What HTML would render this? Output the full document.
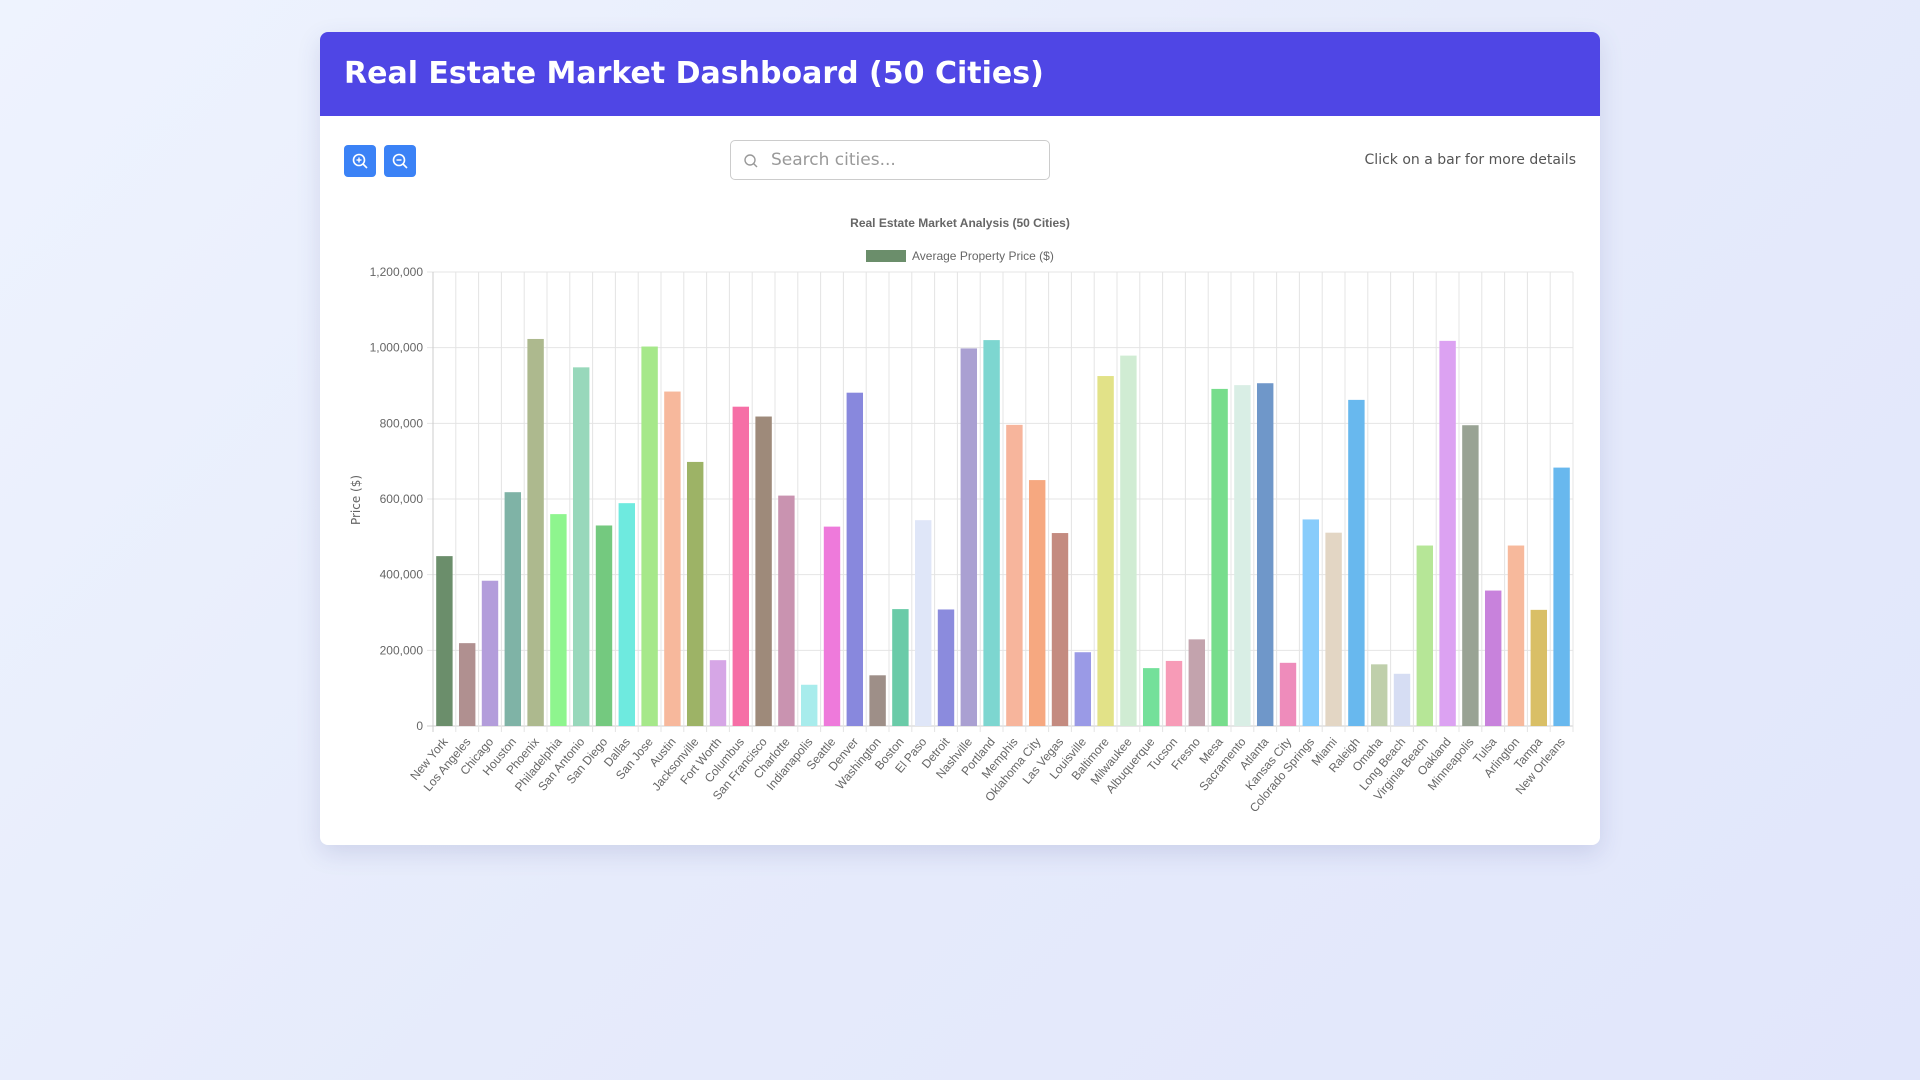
<!DOCTYPE html>
<html><head><meta charset="utf-8"><style>
html,body{margin:0;padding:0}
body{width:1920px;height:1080px;background:linear-gradient(135deg,#eef3fe 0%,#e6ebfb 50%,#e1e6fb 100%);font-family:"Liberation Sans",sans-serif;position:relative;overflow:hidden}
.card{position:absolute;left:320px;top:32px;width:1280px;height:813px;background:#fff;border-radius:8px;box-shadow:0 8px 24px rgba(60,70,140,.15);overflow:hidden}
.header{height:84px;background:#4f46e5;color:#fff;font-family:"DejaVu Sans","Liberation Sans",sans-serif;font-weight:bold;font-size:30px;line-height:84px;padding-left:24px}
.btn{position:absolute;top:113px;width:32px;height:32px;background:#3b82f6;border-radius:4px}
.search{position:absolute;left:410px;top:108px;width:320px;height:40px;border:1px solid #ccc;border-radius:5px;box-sizing:border-box}
.search span{position:absolute;left:40px;top:9px;font-size:17px;color:#999;font-family:"DejaVu Sans",sans-serif}
.hint{position:absolute;right:24px;top:120px;font-size:14px;color:#555;font-family:"DejaVu Sans",sans-serif}
svg{position:absolute;left:0;top:0}
</style></head><body>
<div class="card">
<div class="header">Real Estate Market Dashboard (50 Cities)</div>
<div class="btn" style="left:24px"><svg width="32" height="32"><circle cx="15" cy="15" r="5.5" fill="none" stroke="#fff" stroke-width="1.6"/><line x1="19" y1="19" x2="23" y2="23" stroke="#fff" stroke-width="1.6"/><line x1="12.5" y1="15" x2="17.5" y2="15" stroke="#fff" stroke-width="1.4"/><line x1="15" y1="12.5" x2="15" y2="17.5" stroke="#fff" stroke-width="1.4"/></svg></div>
<div class="btn" style="left:64px"><svg width="32" height="32"><circle cx="15" cy="15" r="5.5" fill="none" stroke="#fff" stroke-width="1.6"/><line x1="19" y1="19" x2="23" y2="23" stroke="#fff" stroke-width="1.6"/><line x1="12.5" y1="15" x2="17.5" y2="15" stroke="#fff" stroke-width="1.4"/></svg></div>
<div class="search"><svg width="40" height="40"><circle cx="19" cy="19" r="5" fill="none" stroke="#999" stroke-width="1.4"/><line x1="22.5" y1="22.5" x2="26" y2="26" stroke="#999" stroke-width="1.4"/></svg><span>Search cities...</span></div>
<div class="hint">Click on a bar for more details</div>
</div>
<svg id="chart" width="1920" height="1080"></svg>
<script>
const cities=["New York","Los Angeles","Chicago","Houston","Phoenix","Philadelphia","San Antonio","San Diego","Dallas","San Jose","Austin","Jacksonville","Fort Worth","Columbus","San Francisco","Charlotte","Indianapolis","Seattle","Denver","Washington","Boston","El Paso","Detroit","Nashville","Portland","Memphis","Oklahoma City","Las Vegas","Louisville","Baltimore","Milwaukee","Albuquerque","Tucson","Fresno","Mesa","Sacramento","Atlanta","Kansas City","Colorado Springs","Miami","Raleigh","Omaha","Long Beach","Virginia Beach","Oakland","Minneapolis","Tulsa","Arlington","Tampa","New Orleans"];
const prices=[449000,219000,384000,618000,1023000,560000,948000,530000,589000,1003000,884000,698000,174000,844000,818000,609000,109000,527000,881000,134000,309000,544000,308000,998000,1020000,796000,650000,510000,195000,925000,979000,153000,172000,229000,891000,901000,906000,167000,546000,511000,862000,163000,138000,477000,1018000,795000,358000,477000,307000,683000];
const colors=["#6b8e6b","#b09090","#b39ddb","#7fb3a6","#adb98e","#8ef58e","#98d8bb","#74c97f","#6eeadf","#a6e88a","#f7b89c","#9db366","#d6a6e6","#f66fa6","#9e8a7a","#c993b0","#a8ecec","#ee7adb","#8888dd","#9e8f88","#6acba8","#dfe6f8","#8b8bdd","#aaa0d2","#7dd6d0","#f7b59c","#f6a880","#c48b80","#9a9ae6","#e2e288","#d0ecd3","#74e09a","#f79bb7","#c3a3ad","#77dd8c","#d9eee5","#6f97c9","#ee8cbb","#88ccfb","#e3d6c4","#68b8ee","#bfcfab","#d6ddf3","#b6e697","#dca2f2","#99a394","#c882dc","#f7b99c","#d9bf66","#68b8ee"];
const yTicks=[0,200000,400000,600000,800000,1000000,1200000];
const yTickLabels=["0","200,000","400,000","600,000","800,000","1,000,000","1,200,000"];
const X0=433,X1=1573,Y0=726,Y1=272,YMAX=1200000;
const svg=document.getElementById('chart');const NS="http://www.w3.org/2000/svg";
const step=(X1-X0)/cities.length;
const xPos=i=>X0+step*i;
const yPos=v=>Y0-(v/YMAX)*(Y0-Y1);
function mk(t,a,txt){const e=document.createElementNS(NS,t);for(const k in a)e.setAttribute(k,a[k]);if(txt!=null)e.textContent=txt;svg.appendChild(e);return e;}
yTicks.forEach((v,i)=>{const y=yPos(v);
const g=mk('line',{x1:X0-6,x2:X1,y1:y,y2:y,stroke:i==0?'#ccc':'#e4e4e4','stroke-width':1});


const t=mk('text',{x:X0-10,y:y+4,'text-anchor':'end','font-size':12,fill:'#666','font-family':'Liberation Sans, sans-serif'},yTickLabels[i]);

});
for(let i=0;i<=cities.length;i++){const x=xPos(i);
const g=mk('line',{x1:x,x2:x,y1:Y1,y2:Y0+6,stroke:i==0?'#ccc':'#e4e4e4','stroke-width':1});

}
cities.forEach((c,i)=>{const cx=xPos(i)+step/2,bw=step*0.72,y=yPos(prices[i]);
const r=mk('rect',{x:cx-bw/2,y:y,width:bw,height:Y0-y,fill:colors[i]});


const t=mk('text',{x:cx+4,y:Y0+16,'text-anchor':'end','font-size':12,fill:'#666','font-family':'Liberation Sans, sans-serif',transform:`rotate(-50 ${cx+4} ${Y0+16})`},c);

});
const yt=mk('text',{x:360,y:500,'text-anchor':'middle','font-size':12,fill:'#666','font-family':'DejaVu Sans, sans-serif',transform:'rotate(-90 360 500)'},'Price ($)');


const ct=mk('text',{x:960,y:227,'text-anchor':'middle','font-size':12,'font-weight':'bold',fill:'#666','font-family':'Liberation Sans, sans-serif'},'Real Estate Market Analysis (50 Cities)');


const lb=mk('rect',{x:866,y:250,width:40,height:12,fill:'#6b8e6b'});


const lt=mk('text',{x:912,y:260,'font-size':12,fill:'#666','font-family':'Liberation Sans, sans-serif'},'Average Property Price ($)');


</script>
</body></html>
